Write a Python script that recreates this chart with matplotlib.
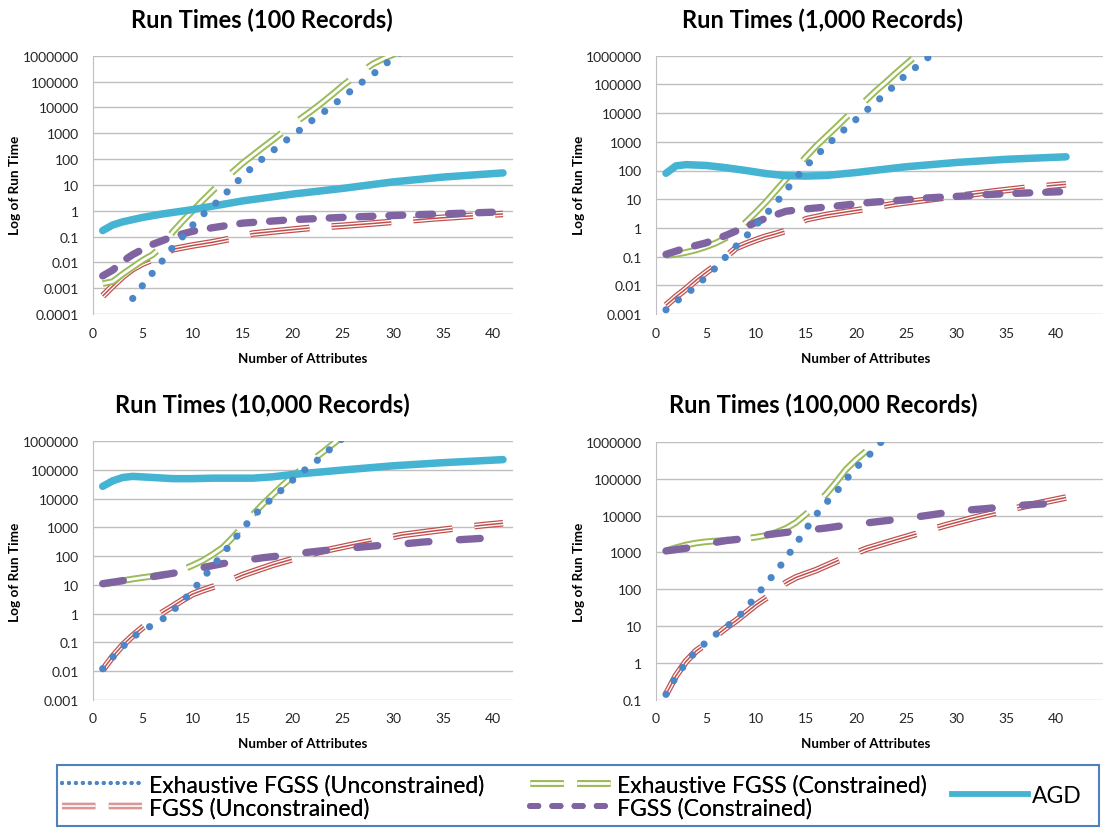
import matplotlib
matplotlib.use('Agg')
import matplotlib.pyplot as plt
import matplotlib.patheffects as pe
from matplotlib.lines import Line2D
from matplotlib.patches import Rectangle

plt.rcParams['font.family'] = ['Lato', 'DejaVu Sans']
plt.rcParams['lines.scale_dashes'] = False

# ---- data: 100 records ----
exh_unc_x_100 = list(range(4, 32))
exh_unc_y_100 = [4e-4, 1.3e-3, 4e-3, 0.012, 0.038, 0.1, 0.28, 0.7, 1.5, 3.6, 9, 22, 50, 105,
                 210, 420, 850, 1600, 3300, 6200, 12000, 25000, 50000, 100000, 190000,
                 400000, 800000, 1.6e6]
exh_con_x_100 = list(range(1, 32))
exh_con_y_100 = [1.5e-3, 1.8e-3, 3.5e-3, 6.5e-3, 0.012, 0.02, 0.045, 0.15, 0.4, 1.0, 2.5, 6,
                 14, 32, 70, 140, 280, 550, 1100, 2200, 4200, 8000, 16000, 33000, 70000,
                 140000, 260000, 480000, 750000, 1.1e6, 1.8e6]
fgss_unc_x_100 = [1, 2, 3, 4, 5, 6, 7, 8, 10, 12, 14, 16, 19, 22, 25, 28, 31, 34, 37, 41]
fgss_unc_y_100 = [5e-4, 1.2e-3, 2.8e-3, 5.5e-3, 0.009, 0.013, 0.02, 0.032, 0.045, 0.06,
                  0.085, 0.13, 0.17, 0.22, 0.26, 0.32, 0.4, 0.5, 0.6, 0.75]
fgss_con_x_100 = [1, 2, 3, 4, 5, 6, 7, 8, 10, 12, 15, 20, 25, 30, 35, 41]
fgss_con_y_100 = [0.003, 0.005, 0.011, 0.02, 0.032, 0.05, 0.07, 0.1, 0.16, 0.22, 0.33,
                  0.45, 0.55, 0.65, 0.75, 0.9]
agd_x_100 = [1, 2, 3, 5, 7, 10, 15, 20, 25, 30, 35, 41]
agd_y_100 = [0.17, 0.28, 0.37, 0.55, 0.75, 1.1, 2.4, 4.4, 7.3, 13, 20, 29]

# ---- data: 1,000 records ----
exh_unc_x_1k = list(range(1, 29))
exh_unc_y_1k = [1.4e-3, 2.7e-3, 5e-3, 9e-3, 0.02, 0.042, 0.1, 0.23, 0.5, 1.25, 3, 7.5, 20,
                55, 140, 320, 700, 1500, 3000, 6000, 12000, 24000, 50000, 100000, 220000,
                400000, 750000, 1.5e6]
exh_con_x_1k = list(range(1, 27))
exh_con_y_1k = [0.11, 0.12, 0.14, 0.17, 0.22, 0.3, 0.45, 0.8, 1.6, 3.5, 8, 20, 50, 120, 300,
                700, 1500, 3200, 7000, 14000, 28000, 60000, 120000, 250000, 500000, 1e6]
fgss_unc_x_1k = [1, 2, 3, 4, 5, 6, 7, 8, 9, 10, 11, 12, 13, 15, 17, 19, 21, 24, 28, 31, 34,
                 37, 41]
fgss_unc_y_1k = [2e-3, 4e-3, 7.5e-3, 0.015, 0.028, 0.05, 0.1, 0.2, 0.28, 0.38, 0.5, 0.62,
                 0.8, 2.0, 2.8, 3.6, 4.6, 7, 10.5, 14, 19, 25, 33]
fgss_con_x_1k = [1, 3, 5, 7, 9, 11, 13, 15, 17, 19, 21, 23, 25, 27, 29, 31, 33, 35, 37, 39, 41]
fgss_con_y_1k = [0.12, 0.2, 0.3, 0.55, 1.1, 2.2, 3.8, 4.6, 5.3, 6.3, 7.5, 8.5, 9.5, 11, 12,
                 13, 14.5, 15.5, 16.5, 17.5, 18.5]
agd_x_1k = [1, 2, 3, 5, 7, 9, 11, 13, 15, 17, 20, 25, 30, 35, 41]
agd_y_1k = [80, 145, 160, 150, 125, 100, 78, 66, 64, 67, 85, 135, 190, 245, 300]

# ---- data: 10,000 records ----
exh_unc_x_10k = list(range(1, 26))
exh_unc_y_10k = [0.012, 0.03, 0.07, 0.15, 0.26, 0.4, 0.65, 1.25, 2.7, 6.5, 17, 45, 120, 330,
                 900, 2400, 5200, 11000, 22000, 45000, 90000, 160000, 320000, 650000, 1.3e6]
exh_con_x_10k = list(range(1, 26))
exh_con_y_10k = [10.5, 12, 14, 16, 18, 20, 23, 27, 34, 48, 70, 115, 200, 450, 1100, 2800,
                 6500, 14000, 30000, 60000, 120000, 230000, 420000, 800000, 1.5e6]
fgss_unc_x_10k = [1, 2, 3, 4, 5, 6, 7, 8, 9, 10, 11, 12, 13, 15, 18, 21, 23, 26, 29, 31, 34,
                  37, 39, 41]
fgss_unc_y_10k = [0.011, 0.032, 0.08, 0.17, 0.33, 0.6, 1.1, 1.8, 3, 4.8, 6.5, 8.5, 11, 22,
                  50, 100, 150, 250, 400, 550, 750, 1000, 1200, 1400]
fgss_con_x_10k = [1, 3, 5, 7, 9, 11, 13, 15, 17, 19, 21, 23, 25, 27, 29, 31, 33, 35, 37, 39, 41]
fgss_con_y_10k = [11, 14, 17, 22, 29, 40, 55, 70, 88, 105, 130, 155, 180, 210, 240, 265, 310,
                  345, 380, 420, 460]
agd_x_10k = [1, 2, 3, 4, 6, 8, 10, 12, 14, 16, 18, 20, 25, 30, 35, 41]
agd_y_10k = [27000, 42000, 55000, 60000, 55000, 50000, 50000, 52000, 52000, 52000, 58000,
             70000, 100000, 140000, 180000, 230000]

# ---- data: 100,000 records (no AGD) ----
exh_unc_x_100k = list(range(1, 24))
exh_unc_y_100k = [0.14, 0.42, 1.0, 2.1, 3.6, 6, 9.5, 15, 30, 65, 140, 300, 700, 1700, 4300,
                  10500, 22000, 43000, 95000, 200000, 360000, 700000, 1.4e6]
exh_con_x_100k = list(range(1, 22))
exh_con_y_100k = [1100, 1350, 1600, 1800, 1950, 2050, 2150, 2250, 2400, 2600, 2900, 3500,
                  4500, 6500, 11000, 20000, 38000, 80000, 180000, 330000, 560000]
fgss_unc_x_100k = [1, 2, 3, 4, 5, 6, 7, 8, 9, 10, 11, 12, 13, 14, 16, 19, 21, 24, 27, 29, 32,
                   35, 38, 41]
fgss_unc_y_100k = [0.14, 0.45, 1.1, 2.1, 3.3, 5.5, 9, 14, 23, 38, 58, 90, 150, 210, 330, 750,
                   1250, 2200, 3800, 5500, 9000, 14000, 21000, 31000]
fgss_con_x_100k = [1, 3, 5, 7, 9, 11, 13, 15, 17, 19, 21, 23, 25, 27, 29, 31, 33, 35, 37, 39, 41]
fgss_con_y_100k = [1100, 1300, 1700, 2100, 2400, 3000, 3500, 4000, 4600, 5500, 6300, 7300,
                   8500, 10000, 12000, 14000, 15500, 17500, 19500, 21000, 23000]

titles = ['Run Times (100 Records)', 'Run Times (1,000 Records)',
          'Run Times (10,000 Records)', 'Run Times (100,000 Records)']
y_ranges = [(-4, 6), (-3, 6), (-3, 6), (-1, 6)]
x_ticks = [0, 5, 10, 15, 20, 25, 30, 35, 40]

BLUE = '#4a86c8'
RED = '#c0504d'
GREEN = '#9bbb59'
PURPLE = '#8064a2'
CYAN = '#45b4d2'
GRID = '#bfbfbf'

fig = plt.figure(figsize=(11.03, 8.29), dpi=100)
W, H = 1103.0, 829.0


def px_axes(l, t, r, b):
    return fig.add_axes([l / W, 1 - b / H, (r - l) / W, (b - t) / H])


axes = [px_axes(92.7, 56.7, 513, 315), px_axes(656, 56.7, 1103, 315),
        px_axes(92.7, 442.3, 513, 700.7), px_axes(656, 443, 1103, 700.7)]
xmax = [42, 44.7, 42, 44.7]

red_fx = [pe.Stroke(linewidth=4.8, foreground=RED), pe.Stroke(linewidth=3.0, foreground='white'),
          pe.Stroke(linewidth=1.1, foreground=RED)]
green_fx = [pe.Stroke(linewidth=4.8, foreground=GREEN), pe.Stroke(linewidth=2.0, foreground='white')]

panels = [
    (exh_unc_x_100, exh_unc_y_100, exh_con_x_100, exh_con_y_100, fgss_unc_x_100, fgss_unc_y_100,
     fgss_con_x_100, fgss_con_y_100, agd_x_100, agd_y_100),
    (exh_unc_x_1k, exh_unc_y_1k, exh_con_x_1k, exh_con_y_1k, fgss_unc_x_1k, fgss_unc_y_1k,
     fgss_con_x_1k, fgss_con_y_1k, agd_x_1k, agd_y_1k),
    (exh_unc_x_10k, exh_unc_y_10k, exh_con_x_10k, exh_con_y_10k, fgss_unc_x_10k, fgss_unc_y_10k,
     fgss_con_x_10k, fgss_con_y_10k, agd_x_10k, agd_y_10k),
    (exh_unc_x_100k, exh_unc_y_100k, exh_con_x_100k, exh_con_y_100k, fgss_unc_x_100k,
     fgss_unc_y_100k, fgss_con_x_100k, fgss_con_y_100k, None, None),
]
purple_dash = [(10, 11.5), (10, 11.5), (15, 22), (15, 22)]

title_pos = [(262, 20), (823, 20), (262, 405), (823, 405)]
ylab_pos = [(15, 185), (579, 185), (15, 572), (579, 572)]
xlab_pos = [(303, 359), (866, 359), (303, 744), (866, 744)]

for i, ax in enumerate(axes):
    eux, euy, ecx, ecy, fux, fuy, fcx, fcy, ax_x, ax_y = panels[i]
    ax.set_yscale('log')
    lo, hi = y_ranges[i]
    ax.set_ylim(10.0 ** lo, 10.0 ** hi)
    ax.set_xlim(0, xmax[i])

    ax.plot(fux, fuy, color=RED, lw=4.8, dashes=(43, 16), dash_capstyle='butt',
            path_effects=red_fx, zorder=3)
    ax.plot(ecx, ecy, color=GREEN, lw=4.8, dashes=(46, 16), dash_capstyle='butt',
            path_effects=green_fx, zorder=4)
    ax.plot(fcx, fcy, color=PURPLE, lw=5.3, dashes=purple_dash[i], dash_capstyle='round',
            zorder=5)
    if ax_x is not None:
        ax.plot(ax_x, ax_y, color=CYAN, lw=5.4, solid_capstyle='round', zorder=6)
    ax.plot(eux, euy, color=BLUE, lw=5.2, dashes=(0.01, 11.4), dash_capstyle='round', zorder=7)

    ticks = [10.0 ** k for k in range(lo, hi + 1)]
    labels = [('%.10f' % t).rstrip('0').rstrip('.') for t in ticks]
    ax.set_yticks(ticks)
    ax.set_yticklabels(labels)
    ax.minorticks_off()
    ax.set_xticks(x_ticks)
    ax.tick_params(length=0, labelsize=10, labelcolor='#262626')
    ax.tick_params(axis='y', pad=10)
    ax.tick_params(axis='x', pad=9)
    ax.grid(axis='y', color=GRID, lw=1)
    ax.set_axisbelow(True)
    for s in ['top', 'right', 'bottom']:
        ax.spines[s].set_visible(False)
    ax.spines['left'].set_color(GRID)

    tx, ty = title_pos[i]
    fig.text(tx / W, 1 - ty / H, titles[i], ha='center', va='center', fontsize=17,
             fontweight='bold')
    lx, ly = ylab_pos[i]
    fig.text(lx / W, 1 - ly / H, 'Log of Run Time', ha='center', va='center', rotation=90,
             fontsize=9.8, fontweight='bold')
    bx, by = xlab_pos[i]
    fig.text(bx / W, 1 - by / H, 'Number of Attributes', ha='center', va='center',
             fontsize=9.6, fontweight='bold')

# legend
fig.patches.append(Rectangle((57 / W, 1 - 827 / H), (1099 - 57) / W, (827 - 766) / H,
                             transform=fig.transFigure, fill=False, edgecolor='#4f81bd', lw=1.5))
h_eu = Line2D([], [], color=BLUE, lw=3, dashes=(0.01, 5), dash_capstyle='round')
h_ec = Line2D([], [], color=GREEN, lw=4.8, dashes=(24, 9.7), path_effects=green_fx)
h_fu = Line2D([], [], color='#d99795', lw=4.6, dashes=(24, 9.7),
              path_effects=[pe.Stroke(linewidth=4.6, foreground='#d99795'),
                            pe.Stroke(linewidth=1.2, foreground='white')])
h_fc = Line2D([], [], color=PURPLE, lw=4.2, dashes=(6, 10), dash_capstyle='round')
h_agd = Line2D([], [], color=CYAN, lw=4.2)
leg1 = fig.legend([h_eu, h_fu, h_ec, h_fc],
                  ['Exhaustive FGSS (Unconstrained)', 'FGSS (Unconstrained)',
                   'Exhaustive FGSS (Constrained)', 'FGSS (Constrained)'],
                  ncol=2, loc='center left', bbox_to_anchor=(62 / W, 1 - 797 / H),
                  frameon=False, fontsize=16.5, handlelength=3.5, handletextpad=0.3,
                  columnspacing=2.0, labelspacing=0.05, borderaxespad=0, borderpad=0)
fig.add_artist(leg1)
fig.legend([h_agd], ['AGD'], loc='center left', bbox_to_anchor=(952 / W, 1 - 797 / H),
           frameon=False, fontsize=16.5, handlelength=3.3, handletextpad=0.2,
           borderaxespad=0, borderpad=0)

fig.savefig('out.png', dpi=100)
